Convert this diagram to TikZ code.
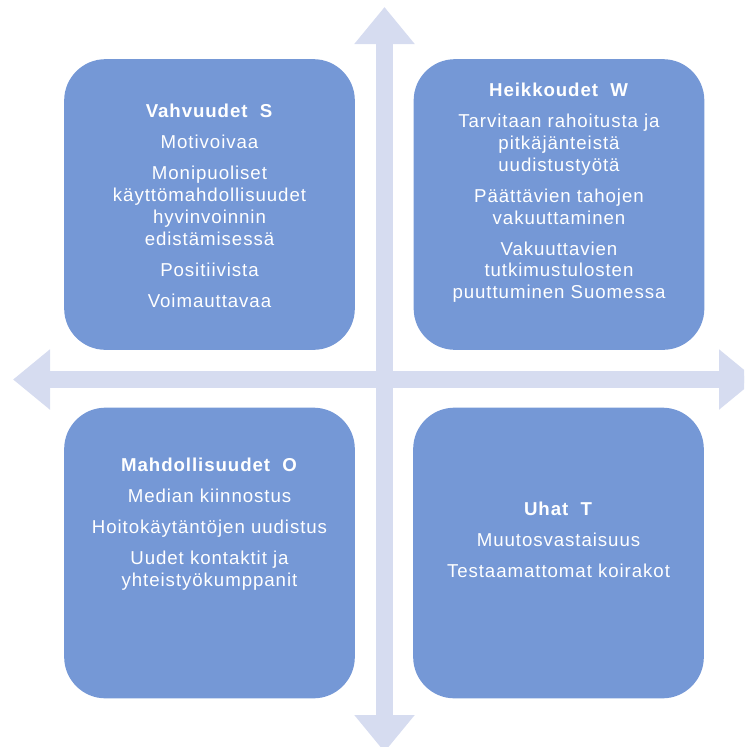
\documentclass[tikz,border=0pt]{standalone}
\usepackage{fontspec}
\setmainfont[LetterSpace=5]{Liberation Sans}
\usepackage{xcolor}
\usepackage{tikz}
\usetikzlibrary{positioning,arrows.meta}
\definecolor{quadBlue}{RGB}{117,152,214}
\definecolor{axisBlue}{RGB}{214,220,240}

\begin{document}
\begin{tikzpicture}[
    x=0.75pt, y=-0.75pt,
    quad/.style={%
      fill=quadBlue,
      rectangle,
      rounded corners=31pt,
      minimum width=218pt,
      minimum height=218pt,
      inner sep=0pt,
    },
    quadtext/.style={%
      text=white,
      align=center,
      inner sep=0pt,
      font=\fontsize{14}{16.3}\selectfont,
    },
    axis/.style={%
      draw=axisBlue,
      line width=12.75pt,
      arrows={Triangle[width=43.5pt,length=27.75pt]-Triangle[width=43.5pt,length=27.75pt]},
    },
  ]

    \clip (0,0) rectangle (744,747);

    \coordinate (N) at (384.5,7);
    \coordinate (D) at (384.5,752);
    \coordinate (L) at (13,379.5);
    \coordinate (R) at (756,379.5);

    \draw [axis] (D) -- (N);
    \draw [axis] (R) -- (L);

    \node [quad] (S) at (209.5,204.5) {};
    \node [quad] (W) at (559,204.5) {};
    \node [quad] (O) at (209.5,553) {};
    \node [quad] (T) at (558.5,553) {};

    \node [quadtext, below=33.75pt of S.north] (Stxt) {\textbf{Vahvuudet~~S}\\[7pt]
      Motivoivaa\\[7pt] Monipuoliset\\ käyttömahdollisuudet\\ hyvinvoinnin\\ edistämisessä\\[7pt]
      Positiivista\\[7pt] Voimauttavaa};
    \node [quadtext, below=18pt of W.north] (Wtxt) {\textbf{Heikkoudet~~W}\\[7pt]
      Tarvitaan rahoitusta ja\\ pitkäjänteistä\\ uudistustyötä\\[7pt]
      Päättävien tahojen\\ vakuuttaminen\\[7pt]
      Vakuuttavien\\ tutkimustulosten\\ puuttuminen Suomessa};
    \node [quadtext, below=37.5pt of O.north] (Otxt) {\textbf{Mahdollisuudet~~O}\\[7pt]
      Median kiinnostus\\[7pt] Hoitokäytäntöjen uudistus\\[7pt]
      Uudet kontaktit ja\\ yhteistyökumppanit};
    \node [quadtext, below=70.5pt of T.north] (Ttxt) {\textbf{Uhat~~T}\\[7pt]
      Muutosvastaisuus\\[7pt] Testaamattomat koirakot};
\end{tikzpicture}
\end{document}
